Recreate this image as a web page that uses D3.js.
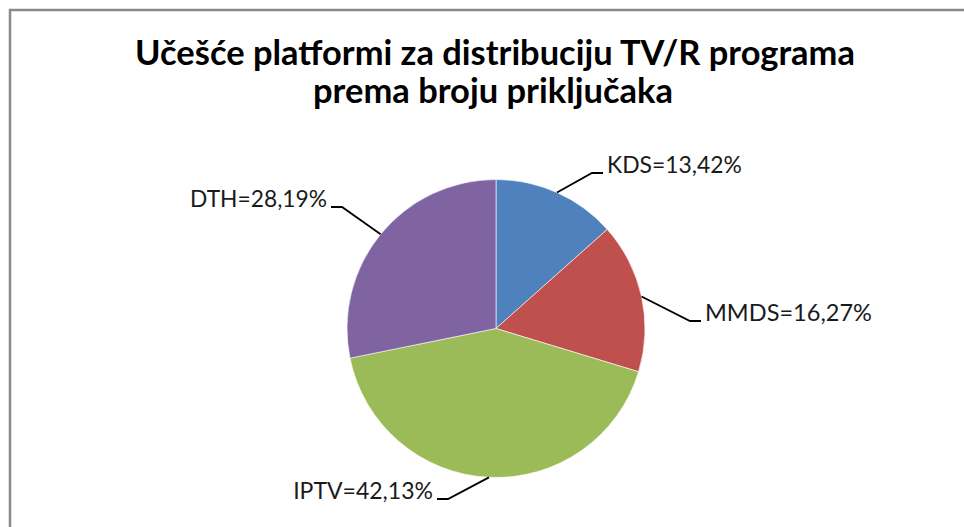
<!DOCTYPE html>
<html>
<head>
<meta charset="utf-8">
<script src="https://cdn.jsdelivr.net/npm/d3@7"></script>
<style>
  html, body { margin: 0; padding: 0; background: #fff; }
  svg { display: block; }
</style>
</head>
<body>
<svg id="chart" width="964" height="527"></svg>
<script>
// data
const categories = ["KDS", "MMDS", "IPTV", "DTH"];
const shares = [13.42, 16.27, 42.13, 28.19];
const shareLabels = ["13,42%", "16,27%", "42,13%", "28,19%"];
const sliceColors = ["#4f81bd", "#c0504d", "#9bbb59", "#8064a2"];
const titleLines = ["Učešće platformi za distribuciju TV/R programa", "prema broju priključaka"];

// label elbows (where the leader line turns horizontal), and which side the text sits
const labelElbows = [[592, 173], [690, 321], [448, 499], [342, 207]];
const labelSide = [1, 1, -1, -1];

const width = 964, height = 527;
const cx = 496, cy = 328.5, radius = 149;

const svg = d3.select("#chart");
svg.selectAll("*").remove();

// chart frame (cut off on the right and bottom, as in the screenshot)
svg.append("rect")
    .attr("x", 10).attr("y", 10)
    .attr("width", 1000).attr("height", 600)
    .attr("fill", "#fff")
    .attr("stroke", "#8a8a8a")
    .attr("stroke-width", 2.5);

// TITLE
const title = svg.append("text")
    .attr("text-anchor", "middle")
    .attr("font-family", "Lato, 'Open Sans', sans-serif")
    .attr("font-weight", "bold")
    .attr("fill", "#000");

const titleTargets = [{ x: 495, y: 65, w: 720 }, { x: 493, y: 103, w: 360 }];
titleLines.forEach((line, i) => {
    const t = title.append("tspan")
        .attr("x", titleTargets[i].x)
        .attr("y", titleTargets[i].y)
        .attr("font-size", 28)
        .text(line);
    const measured = t.node().getComputedTextLength();
    t.attr("font-size", 28 * titleTargets[i].w / measured);
});

// PIE
const data = categories.map((c, i) => ({ name: c, value: shares[i], label: shareLabels[i], color: sliceColors[i] }));
const pie = d3.pie().value(d => d.value).sort(null);
const arcs = pie(data);
const arc = d3.arc().innerRadius(0).outerRadius(radius);
const edgeArc = d3.arc().innerRadius(radius).outerRadius(radius);

const g = svg.append("g").attr("transform", `translate(${cx},${cy})`);

g.selectAll("path.slice")
    .data(arcs)
    .enter().append("path")
    .attr("class", "slice")
    .attr("d", arc)
    .attr("fill", d => d.data.color)
    .attr("stroke", "#fff")
    .attr("stroke-width", 0.6);

// LEADER LINES & LABELS
arcs.forEach((d, i) => {
    const mid = (d.startAngle + d.endAngle) / 2;
    const sx = cx + radius * Math.sin(mid);
    const sy = cy - radius * Math.cos(mid);
    const [ex, ey] = labelElbows[i];
    const side = labelSide[i];
    const hx = ex + side * 11;

    svg.append("polyline")
        .attr("points", `${sx},${sy} ${ex},${ey} ${hx},${ey}`)
        .attr("fill", "none")
        .attr("stroke", "#000")
        .attr("stroke-width", 1.8);

    const lbl = svg.append("text")
        .attr("x", hx + side * 4)
        .attr("y", ey)
        .attr("text-anchor", side > 0 ? "start" : "end")
        .attr("font-family", "Lato, 'Open Sans', sans-serif")
        .attr("font-size", 24)
        .attr("fill", "#1a1a1a")
        .text(`${d.data.name}=${d.data.label}`);
});

// label widths from the reference, fit font size to them
const labelWidths = [135, 167, 140, 137];
svg.selectAll("text").filter(function() { return this.getAttribute("font-size") === "24"; })
    .each(function(_, i) {
        const w = this.getComputedTextLength();
        d3.select(this).attr("font-size", 24 * labelWidths[i] / w);
    });
</script>
</body>
</html>
